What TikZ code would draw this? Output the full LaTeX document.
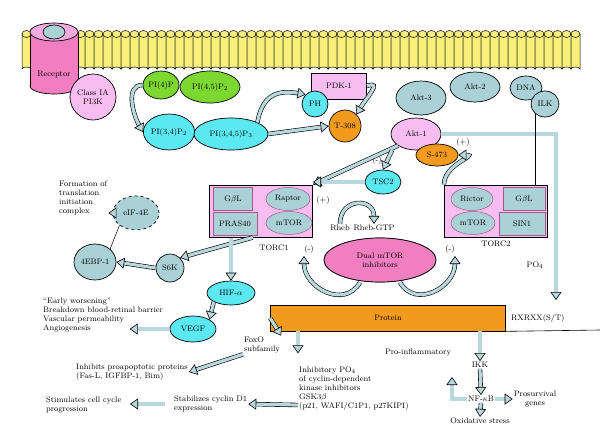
\documentclass[tikz,border=0pt]{standalone}
\usepackage{amsmath}
\usetikzlibrary{arrows.meta,positioning,shapes.geometric}
\definecolor{lipid}{HTML}{F8F07A}
\definecolor{cyanfill}{HTML}{5CE8F0}
\definecolor{greyfill}{HTML}{A9D1D6}
\definecolor{greenfill}{HTML}{7CD830}
\definecolor{pinkfill}{HTML}{F7BDF0}
\definecolor{rosefill}{HTML}{F07EC0}
\definecolor{orangefill}{HTML}{F29A1E}
\definecolor{arrowfill}{HTML}{B9D8DC}
\tikzset{
  estilo via/.style={
      x=1pt, y=-1pt,
      every node/.style={font={\fontsize{8}{9}\selectfont}, align=center, inner sep=1pt},
      elip/.style={ellipse, draw, line width=0.7pt, inner sep=0pt},
      caja/.style={rectangle, draw=rosefill!70!black, line width=0.5pt, fill=greyfill, inner sep=0pt},
      texto/.style={align=left},
      gruesa/.style={double=arrowfill, double distance=3.2pt, line width=0.6pt,
          -{Triangle[length=8pt,width=11pt,fill=arrowfill]}},
    },
}
\begin{document}
\begin{tikzpicture}[estilo via]
\useasboundingbox (0,0) rectangle (600,445);
% membrana
\foreach \x in {22,31,...,575} {
  \draw[fill=lipid, line width=0.5pt] (\x,34) -- (\x,69) arc[start angle=180, end angle=360, x radius=4.5, y radius=2] -- (\x+9,34);
  \draw[fill=lipid, line width=0.5pt] (\x+4.5,34) ellipse[x radius=4.5, y radius=3.5];
}
% receptor
\draw[fill=rosefill, line width=0.7pt] (54,86) ellipse[x radius=24, y radius=8];
\fill[rosefill] (30,32) rectangle (78,86);
\draw[line width=0.7pt] (30,32) -- (30,86) (78,32) -- (78,86);
\draw[fill=pinkfill!70!rosefill, line width=0.7pt] (54,32) ellipse[x radius=24, y radius=9];
\draw[fill=greyfill, line width=0.7pt] (54,32) ellipse[x radius=11, y radius=7];
\node (rec) at (54,75) {Receptor};
\node[circle, draw, fill=pinkfill, line width=0.7pt, minimum size=46pt, inner sep=0pt] (pi3k) at (93,97) {Class IA\\PI3K};
\node[elip, fill=greenfill, minimum width=34pt, minimum height=28pt] (pi4p) at (161,85) {PI(4)P};
\node[elip, fill=greenfill, minimum width=60pt, minimum height=32pt] (pi45) at (210,87) {PI(4,5)P$_2$};
\node[elip, fill=cyanfill, minimum width=50pt, minimum height=36pt] (pi34) at (169,132) {PI(3,4)P$_2$};
\node[elip, fill=cyanfill, minimum width=74pt, minimum height=32pt] (pi345) at (231,134) {PI(3,4,5)P$_3$};
\node[rectangle, draw, fill=pinkfill, line width=0.7pt, minimum width=55pt, minimum height=26pt] (pdk) at (339,86) {PDK-1};
\node[circle, draw, fill=cyanfill, line width=0.7pt, minimum size=26pt, inner sep=0pt] (ph) at (315,104) {PH};
\node[elip, fill=greyfill, minimum width=50pt, minimum height=34pt] (akt3) at (421,98) {Akt-3};
\node[elip, fill=greyfill, minimum width=50pt, minimum height=30pt] (akt2) at (475,87) {Akt-2};
\node[elip, fill=greyfill, minimum width=32pt, minimum height=24pt] (dna) at (526,88) {DNA};
\node[elip, fill=greyfill, minimum width=28pt, minimum height=26pt] (ilk) at (545,104) {ILK};
\node[elip, fill=pinkfill, minimum width=50pt, minimum height=32pt] (akt1) at (416,134) {Akt-1};
\node[circle, draw, fill=orangefill, line width=0.7pt, minimum size=32pt, inner sep=0pt] (t308) at (345,126) {T-308};
\node[elip, fill=orangefill, minimum width=42pt, minimum height=22pt] (s473) at (437,155) {S-473};
\node[elip, fill=cyanfill, minimum width=36pt, minimum height=24pt] (tsc2) at (383,182) {TSC2};
% TORC1
\node[rectangle, draw, fill=pinkfill, line width=1pt, minimum width=103pt, minimum height=52pt] (torc1) at (261,211) {};
\node[caja, minimum width=39pt, minimum height=23pt] (gbl1) at (233,199) {G$\beta$L};
\node[caja, minimum width=44pt, minimum height=23pt] (pras) at (235,224) {PRAS40};
\node[elip, fill=greyfill, draw=rosefill!70!black, line width=0.5pt, minimum width=44pt, minimum height=23pt] (raptor) at (288,199) {Raptor};
\node[elip, fill=greyfill, draw=rosefill!70!black, line width=0.5pt, minimum width=46pt, minimum height=23pt] (mtor1) at (289,223) {mTOR};
\node (ltorc1) at (274,248) {TORC1};
% TORC2
\node[rectangle, draw, fill=pinkfill, line width=1pt, minimum width=103pt, minimum height=52pt] (torc2) at (496,211) {};
\node[elip, fill=greyfill, draw=rosefill!70!black, line width=0.5pt, minimum width=42pt, minimum height=23pt] (rictor) at (472,199) {Rictor};
\node[elip, fill=greyfill, draw=rosefill!70!black, line width=0.5pt, minimum width=44pt, minimum height=23pt] (mtor2) at (473,223) {mTOR};
\node[caja, minimum width=42pt, minimum height=23pt] (gbl2) at (524,199) {G$\beta$L};
\node[caja, minimum width=46pt, minimum height=23pt] (sin1) at (522,224) {SIN1};
\node[below=2pt of torc2] (ltorc2) {TORC2};
\node (rheb) at (340,228) {Rheb};
\node (rhebgtp) at (374,228) {Rheb-GTP};
\node (mas1) at (323,200) {(+)};
\node (mas2) at (463,142) {(+)};
\node (menos0) at (377,160) {(-)};
\node (menos1) at (309,249) {(-)};
\node (menos2) at (450,249) {(-)};
\coordinate (tip1) at (304,256);
\coordinate (tip2) at (455,256);
\node[elip, fill=rosefill, minimum width=112pt, minimum height=44pt] (dual) at (380,260) {Dual mTOR\\inhibitors};
\node (po4) at (535,265) {PO$_4$};
% protein
\node[rectangle, draw, fill=orangefill, line width=0.7pt, minimum width=235pt, minimum height=26pt] (prot) at (388,318) {Protein};
\node[anchor=west] (rx) at (510,318) {RXRXX(S/T)};
\coordinate (rxend) at (600,330);
% izquierda
\node[texto, anchor=north west] (form) at (58,180) {Formation of\\translation\\initiation\\complex};
\node[elip, fill=greyfill, dashed, minimum width=46pt, minimum height=34pt] (eif) at (136,213) {eIF-4E};
\node[elip, fill=greyfill, minimum width=42pt, minimum height=36pt] (ebp) at (95,262) {4EBP-1};
\node[circle, draw, fill=greyfill, line width=0.7pt, minimum size=28pt, inner sep=0pt] (s6k) at (170,268) {S6K};
\node[elip, fill=cyanfill, minimum width=48pt, minimum height=24pt] (hif) at (231,293) {HIF-$\alpha$};
\node[elip, fill=cyanfill, minimum width=46pt, minimum height=26pt] (vegf) at (193,329) {VEGF};
\node[texto, anchor=north west] (early) at (42,297) {``Early worsening''\\Breakdown blood-retinal barrier\\Vascular permeability\\Angiogenesis};
\node[texto] (foxo) at (262,345) {FoxO\\subfamily};
\node[texto, anchor=west] (inhib) at (75,372) {Inhibits proapoptotic proteins\\(Fas-L, IGFBP-1, Bim)};
\node[texto, anchor=west] (stim) at (45,405) {Stimulates cell cycle\\progression};
\node[texto, anchor=west] (stab) at (173,404) {Stabilizes cyclin D1\\expression};
\node[texto, anchor=north west] (inhpo) at (298,366) {Inhibitory PO$_4$\\of cyclin-dependent\\kinase inhibitors\\GSK3$\beta$\\(p21, WAFI/C1P1, p27KIPI)};
\node (pro) at (418,352) {Pro-inflammatory};
\node (ikk) at (480,365) {IKK};
\node (nfkb) at (481,399) {NF-$\kappa$B};
\node (surv) at (535,399) {Prosurvival\\genes};
\node (oxid) at (480,421) {Oxidative stress};
\coordinate (bajo) at (556,300);
% flechas gruesas
\draw[gruesa] (pi345.east) -- (t308.west);
\draw[gruesa] (akt1.south west) -- (torc1.north east);
\draw[gruesa] ([xshift=-24pt]akt1.south) -- (tsc2.north);
\draw[gruesa] (tsc2.west) -- (torc1.east |- tsc2.west);
\draw[gruesa] (torc1.south -| gbl1.east) -- (s6k.north east);
\draw[gruesa] (torc1.south -| hif.north) -- (hif.north);
\draw[gruesa] (s6k.west) -- (ebp.east);
\draw[gruesa] (eif.west) -- (form.east |- eif.west);
\draw[line width=0.5pt] (eif.south west) -- (ebp.north east);
\draw[gruesa] (hif.south west) -- (vegf.north east);
\draw[gruesa] (vegf.west) -- ++(-40,0);
\draw[gruesa] (prot.west) -- (foxo.north east);
\draw[gruesa] (foxo.south west) -- (inhib.east);
\draw[gruesa] (prot.south -| 298,0) -- ++(0,22);
\draw[gruesa] (inhpo.west |- 0,405) -- (stab.east);
\draw[gruesa] ([xshift=-8pt]stab.west) -- ++(-35,0);
\draw[gruesa] (prot.south -| ikk) -- (ikk.north);
\draw[gruesa] (ikk.south) -- (nfkb.north);
\draw[gruesa] (nfkb.south) -- (oxid.north);
\draw[gruesa] (nfkb.east) -- (surv.west);
\draw[gruesa] (nfkb.west) -- ++(-15,0) -- ++(0,-22);
\draw[gruesa] (akt1.east) -- (556,134) -- (bajo);
\draw[line width=0.6pt] (ilk.south west) -- (torc2.north -| ilk.south west);
\draw[line width=0.6pt] (prot.south east) -- (rxend);
% flechas curvas
\draw[gruesa] (pi4p.west) to[out=180, in=120] (pi34.west);
\draw[gruesa] (pi345.north east) to[out=80, in=170, looseness=1.3] (ph.north west);
\draw[gruesa] (pdk.east) to[out=20, in=60, looseness=1.5] (t308.north east);
\draw[gruesa] (torc2.north west) to[out=90, in=0, looseness=1.6] (s473.east);
\draw[gruesa] (rheb.north) to[out=90, in=90, looseness=2] (rhebgtp.north);
\draw[gruesa] ([xshift=-20pt]dual.south) to[out=240, in=270, looseness=1.3] (tip1);
\draw[gruesa] ([xshift=20pt]dual.south) to[out=-60, in=270, looseness=1.3] (tip2);
\node[elip, fill=rosefill, minimum width=112pt, minimum height=44pt] at (dual) {Dual mTOR\\inhibitors};
\end{tikzpicture}
\end{document}
